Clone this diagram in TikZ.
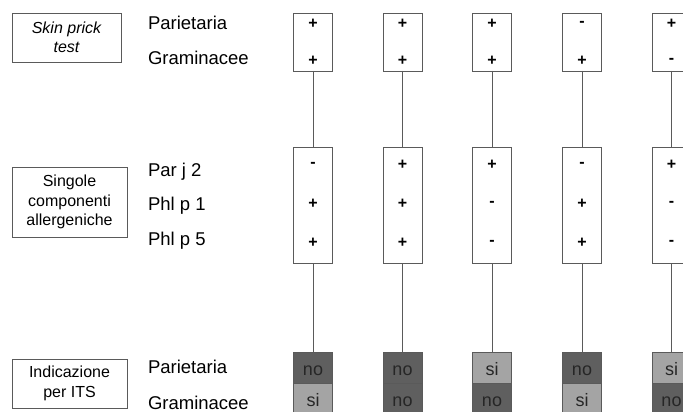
\documentclass[tikz,border=0pt]{standalone}
\usepackage{fontspec}
\setmainfont{Liberation Sans}
\definecolor{frame}{HTML}{5A5A5A}
\definecolor{nofill}{HTML}{5F5F5F}
\definecolor{sifill}{HTML}{A4A4A4}
\begin{document}
\begin{tikzpicture}[x=1pt,y=-1pt,
  every node/.style={inner sep=0pt, outer sep=0pt},
  legendbox/.style={draw=frame, line width=0.9pt, rectangle, align=center,
    font=\fontsize{16}{19.5}\selectfont},
  rowlabel/.style={anchor=base west, font=\fontsize{18.5}{20}\selectfont},
  colbox/.style={draw=frame, line width=0.9pt, fill=white, rectangle, minimum width=39pt},
  sign/.style={font=\fontsize{16}{17}\selectfont\bfseries},
  nocell/.style={draw=frame, line width=0.9pt, fill=nofill, minimum width=39pt},
  sicell/.style={draw=frame, line width=0.9pt, fill=sifill, minimum width=39pt},
  cellword/.style={anchor=base, font=\fontsize{18}{20}\selectfont, text=black!85},
  link/.style={draw=frame, line width=0.9pt}]
\useasboundingbox (0,0) rectangle (683,412);

% left-hand legend boxes
\node[legendbox, minimum width=109pt, minimum height=49pt] (spt) at (66.5,37.5)
  {\itshape Skin prick\\\itshape test};
\node[legendbox, minimum width=115pt, minimum height=70pt] (sca) at (69.5,202)
  {Singole\\componenti\\allergeniche};
\node[legendbox, minimum width=115pt, minimum height=49pt] (its) at (69.5,383.5)
  {Indicazione\\per ITS};

% row labels
\node[rowlabel] (l1) at (148,29.3) {Parietaria};
\node[rowlabel] (l2) at (148,65) {Graminacee};
\node[rowlabel] (l3) at (148,176.7) {Par j 2};
\node[rowlabel] (l4) at (148,210.5) {Phl p 1};
\node[rowlabel] (l5) at (148,245) {Phl p 5};
\node[rowlabel] (l6) at (148,373.3) {Parietaria};
\node[rowlabel] (l7) at (148,409) {Graminacee};

% columns: x, skin prick (2), components (3), indication (2)
\foreach \i/\x/\sa/\sb/\ca/\cb/\cc/\ia/\ib in {
  1/313/+/+/-/+/+/no/si,
  2/402.5/+/+/+/+/+/no/no,
  3/492/+/+/+/-/-/si/no,
  4/582/-/+/-/+/+/no/si,
  5/671.5/+/-/+/-/-/si/no}{
  \node[colbox, minimum height=58pt] (t\i) at (\x,42) {};
  \node[sign] (ta\i) at (\x,23.5) {\sa};
  \node[sign] (tb\i) at (\x,61) {\sb};
  \node[colbox, minimum height=116pt] (m\i) at (\x,205) {};
  \node[sign] (ma\i) at (\x,165) {\ca};
  \node[sign] (mb\i) at (\x,204) {\cb};
  \node[sign] (mc\i) at (\x,242.5) {\cc};
  \node[\ia cell, minimum height=31pt] (ba\i) at (\x,367.5) {};
  \node[\ib cell, minimum height=32pt] (bb\i) at (\x,399) {};
  \node[cellword] (wa\i) at (\x,375) {\ia};
  \node[cellword] (wb\i) at (\x,406.5) {\ib};
  \draw[link] (t\i.south) -- (m\i.north);
  \draw[link] (m\i.south) -- (ba\i.north);
}
\end{tikzpicture}
\end{document}
